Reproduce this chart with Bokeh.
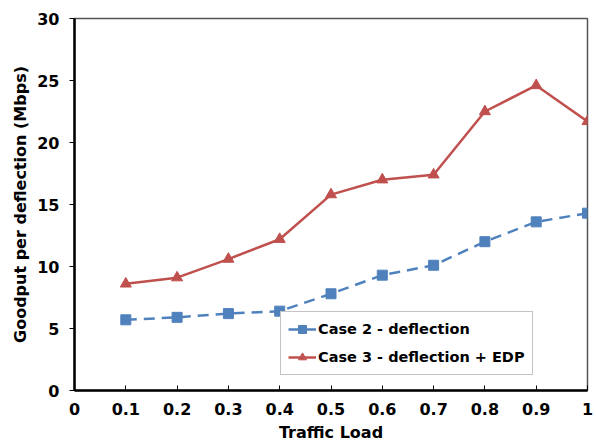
from bokeh.plotting import figure
from bokeh.models import Range1d, FixedTicker, Legend, LegendItem
from bokeh.embed import file_html
from bokeh.resources import INLINE

traffic_load = [0.1, 0.2, 0.3, 0.4, 0.5, 0.6, 0.7, 0.8, 0.9, 1.0]
case2 = [5.7, 5.9, 6.2, 6.4, 7.8, 9.3, 10.1, 12.0, 13.6, 14.3]
case3 = [8.6, 9.1, 10.6, 12.2, 15.8, 17.0, 17.4, 22.5, 24.6, 21.7]
x_ticks = [0, 0.1, 0.2, 0.3, 0.4, 0.5, 0.6, 0.7, 0.8, 0.9, 1.0]
x_tick_labels = ["0", "0.1", "0.2", "0.3", "0.4", "0.5", "0.6", "0.7", "0.8", "0.9", "1"]
y_ticks = [0, 5, 10, 15, 20, 25, 30]

FONT = "DejaVu Sans"
BLUE = "#4F81BD"
RED = "#C0504D"

p = figure(width=596, height=445, output_backend="svg", toolbar_location=None,
           x_range=Range1d(0, 1), y_range=Range1d(0, 30),
           min_border_left=74, min_border_right=9, min_border_top=18, min_border_bottom=55)
p.xgrid.visible = False
p.ygrid.visible = False
p.outline_line_color = "#555555"
p.outline_line_width = 1.5

p.xaxis.ticker = FixedTicker(ticks=x_ticks)
p.xaxis.major_label_overrides = {t: l for t, l in zip(x_ticks, x_tick_labels)}
p.yaxis.ticker = FixedTicker(ticks=y_ticks)

for ax in (p.xaxis[0], p.yaxis[0]):
    ax.axis_line_color = "black"
    ax.axis_line_width = 2.5
    ax.major_tick_line_color = "black"
    ax.major_tick_line_width = 1
    ax.minor_tick_line_color = None
    ax.major_label_text_font = FONT
    ax.major_label_text_font_style = "bold"
    ax.major_label_text_font_size = "16px"
    ax.major_label_text_color = "black"
    ax.axis_label_text_font = FONT
    ax.axis_label_text_font_style = "bold"
    ax.axis_label_text_font_size = "16px"
    ax.axis_label_text_color = "black"

p.xaxis.major_tick_in = 5
p.xaxis.major_tick_out = 0
p.yaxis.major_tick_in = 0
p.yaxis.major_tick_out = 5
p.xaxis.major_label_standoff = 12
p.yaxis.major_label_standoff = 10
p.xaxis.axis_label = "Traffic Load"
p.yaxis.axis_label = "Goodput per deflection (Mbps)"
p.xaxis.axis_label_standoff = 5
p.yaxis.axis_label_standoff = 4

l2 = p.line(traffic_load, case2, line_color=BLUE, line_width=2.5, line_dash="11 7")
m2 = p.scatter(traffic_load, case2, marker="square", size=10, fill_color=BLUE, line_color=BLUE)
l3 = p.line(traffic_load, case3, line_color=RED, line_width=2.5)
m3 = p.scatter(traffic_load, case3, marker="triangle", size=11, fill_color=RED, line_color=RED)

legend = Legend(items=[
    LegendItem(label="Case 2 - deflection", renderers=[l2, m2]),
    LegendItem(label="Case 3 - deflection + EDP", renderers=[l3, m3]),
], location=(206, 15))
legend.label_text_font = FONT
legend.label_text_font_style = "bold"
legend.label_text_font_size = "14.5px"
legend.label_text_color = "black"
legend.border_line_color = "#888888"
legend.border_line_width = 1
legend.background_fill_alpha = 1
legend.padding = 7
legend.spacing = 8
legend.glyph_width = 28
legend.glyph_height = 20
legend.label_height = 20
legend.label_standoff = 2
legend.margin = 0
p.add_layout(legend)

open("out.html", "w").write(file_html(p, INLINE))
